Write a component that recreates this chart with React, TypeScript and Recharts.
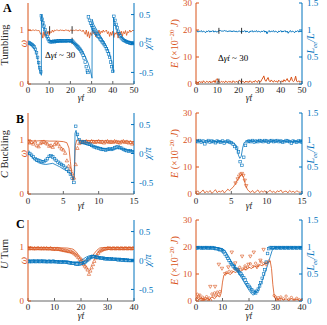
import React from 'react';
import { ComposedChart, Line, XAxis, YAxis, ReferenceLine } from 'recharts';

const ORANGE = '#D95319';
const BLUE = '#0072BD';
const FONT = '"Liberation Serif", "DejaVu Serif", serif';

// ---------------- Row A : Tumbling (t 0..50) ----------------
const aStrainStep = 0.5;
const aStrain = [
  1, 0.99, 1, 0.98, 1, 1, 0.99, 1, 1, 0.98, 1,
  0.97, 0.92, 0.95, 0.85, 0.97, 0.88, 0.96, 0.93, 0.98, 0.9, 0.97, 0.95, 1, 0.96,
  1, 0.99, 1, 1, 0.98, 1, 1, 0.99, 1, 0.98, 1, 1, 0.99, 1, 0.97, 1, 1, 0.98, 1, 0.99, 1, 1, 0.98, 1, 1, 0.99, 0.97, 1,
  0.96, 0.92, 1, 0.88, 0.97, 0.85, 0.95, 0.9, 1, 0.93, 0.97, 0.87, 0.96, 0.94, 1, 0.92, 0.98, 0.95, 1, 0.96,
  0.98, 1, 0.93, 0.97, 0.88, 0.96, 0.9, 0.98, 0.86, 0.95, 0.92, 0.97, 0.85, 0.96, 0.91, 0.98, 0.88, 0.97, 0.93, 0.99, 0.9, 0.97, 0.95, 1, 0.96, 0.98, 1, 0.98,
];
const aChiExp: number[][] = [
  [0, 0.02], [0.5, 0.01], [1, 0], [1.5, -0.01], [2, -0.02], [2.5, -0.04], [3, -0.06], [3.5, -0.1], [4, -0.16], [4.5, -0.24], [5, -0.33], [5.5, -0.42], [6, -0.49],
  [6.3, 0.48], [6.6, 0.42], [7, 0.36], [7.5, 0.3], [8, 0.24], [8.5, 0.18], [9, 0.12], [9.5, 0.08], [10, 0.04], [10.5, 0.03], [11, 0.03], [11.5, 0.03], [12, 0.04],
  [12.5, 0.03], [13, 0.04], [13.5, 0.04], [14, 0.04], [14.5, 0.05], [15, 0.04], [15.5, 0.05], [16, 0.05], [16.5, 0.04], [17, 0.05], [17.5, 0.05], [18, 0.04],
  [18.5, 0.05], [19, 0.05], [19.5, 0.05], [20, 0.04], [20.5, 0.05], [21, 0.04], [21.5, 0.02], [22, 0], [22.5, -0.02], [23, -0.04], [23.5, -0.06], [24, -0.08],
  [24.5, -0.1], [25, -0.13], [25.5, -0.16], [26, -0.2], [26.5, -0.25], [27, -0.32], [27.5, -0.4], [28, -0.47], [28.3, -0.5],
  [28.5, 0.46], [29, 0.4], [29.5, 0.35], [30, 0.31], [30.5, 0.27], [31, 0.24], [31.5, 0.21], [32, 0.18], [32.5, 0.16], [33, 0.13], [33.5, 0.11], [34, 0.08],
  [34.5, 0.06], [35, 0.03], [35.5, 0.01], [36, -0.02], [36.5, -0.05], [37, -0.09], [37.5, -0.13], [38, -0.18], [38.5, -0.24], [39, -0.32], [39.5, -0.4], [40, -0.48],
  [40.5, 0.47], [41, 0.4], [41.5, 0.33], [42, 0.27], [42.5, 0.21], [43, 0.17], [43.5, 0.13], [44, 0.1], [44.5, 0.08], [45, 0.06], [45.5, 0.05], [46, 0.04],
  [46.5, 0.03], [47, 0.02], [47.5, 0.02], [48, 0.01], [48.5, 0.01], [49, 0], [49.5, 0], [50, 0.01],
];
const aChiSim: number[][] = [
  [0, 0.02], [2, -0.05], [3.5, -0.12], [4.5, -0.25], [5.5, -0.45], [6.3, -0.55], [6.35, 0.5], [7, 0.38], [8, 0.22], [9, 0.1], [10, 0.04], [12, 0.03],
  [15, 0.04], [18, 0.04], [21, 0.03], [23, -0.03], [25, -0.1], [27, -0.22], [28.5, -0.35], [29.5, -0.48], [30.2, -0.6], [30.25, 0.42], [31, 0.33],
  [33, 0.2], [35, 0.08], [37, -0.05], [38.5, -0.18], [39.5, -0.32], [40.3, -0.5], [40.35, 0.45], [41, 0.36], [42, 0.24], [43, 0.15], [45, 0.07],
  [47, 0.03], [50, 0.01],
];
const aLeeStep = 0.5;
const aLee = [
  0.97, 0.99, 0.96, 0.98, 0.97, 0.99, 0.96, 0.98, 0.97, 0.95, 0.98, 0.97, 0.99, 0.96, 0.98, 0.97, 0.99, 0.96, 0.98, 0.97, 0.96, 0.98,
  0.99, 0.99, 0.98, 0.98, 0.98, 0.99, 0.98, 0.98, 0.97, 0.98, 0.98, 0.98, 0.97, 0.98, 0.98, 0.97, 0.98, 0.96, 0.98, 0.98, 0.97,
  0.96, 0.98, 0.97, 0.99, 0.96, 0.98, 0.97, 0.95, 0.98, 0.97,
  0.99, 0.96, 0.98, 0.97, 0.99, 0.96, 0.98, 0.97, 0.96, 0.98,
  0.97, 0.99, 0.96, 0.98, 0.93, 0.97, 0.99, 0.96, 0.98, 0.97,
  0.99, 0.96, 0.98, 0.97, 0.95, 0.98, 0.97, 0.99, 0.96, 0.98,
  0.97, 0.99, 0.96, 0.98, 0.94, 0.97, 0.99, 0.96, 0.98, 0.97,
  0.95, 0.98, 0.97, 0.99, 0.96, 0.98, 0.97, 0.98,
];
const aEnergy = [
  0.5, 0.8, 0.3, 1.0, 0.6, 0.9, 0.4, 1.2, 0.7, 0.5, 1.0, 0.8, 0.6, 1.1, 0.4, 0.9, 0.7, 1.3, 0.5, 1.6, 2.0, 1.0,
  0.8, 0.6, 1.0, 0.7, 0.9, 0.5, 1.1, 0.8, 0.6, 1.0, 0.7, 0.9, 0.5, 1.2, 0.8, 0.6, 1.0, 0.7, 0.9, 1.5, 0.8,
  0.6, 1.0, 0.8, 0.5, 1.1, 0.7, 0.9, 0.6, 1.2, 0.8,
  0.5, 1.0, 0.7, 1.3, 0.9, 0.6, 1.4, 1.0, 0.8, 1.6,
  2.2, 3.0, 1.5, 1.0, 1.8, 2.4, 1.2, 0.8, 1.5, 1.0,
  0.7, 1.3, 0.9, 1.1, 0.6, 1.4, 1.0, 0.8, 1.2, 0.7,
  1.6, 1.0, 1.3, 2.0, 1.1, 0.8, 1.5, 2.6, 1.2, 0.9,
  1.4, 2.9, 1.0, 0.8, 1.2, 0.6, 1.0, 0.7,
];

// ---------------- Row B : C buckling (t 0..15) ----------------
const bStep = 0.25;
const bStrainExp = [
  0.97, 0.95, 0.96, 0.93, 0.97, 0.9, 0.88, 0.94, 0.96, 0.97, 0.95, 0.93, 0.89, 0.9, 0.87, 0.92, 0.95,
  0.93, 0.88, 0.84, 0.82, 0.76, 0.62, 0.52, 0.46, 0.38, 0.3, 0.55, 0.85,
  0.94, 0.96, 0.97, 0.96, 0.98, 0.97, 0.96, 0.98, 0.97, 0.96, 0.97, 0.98, 0.96, 0.97, 0.95, 0.97,
  0.98, 0.96, 0.97, 0.96, 0.98, 0.97, 0.96, 0.95, 0.97, 0.98, 0.96, 0.97, 0.95, 0.96, 0.93, 0.95,
];
const bStrainSim: number[][] = [
  [0, 0.99], [1, 0.98], [2, 0.99], [3, 0.98], [4, 0.98], [5, 0.97], [5.5, 0.95], [5.8, 0.85], [6.0, 0.6], [6.2, 0.35], [6.35, 0.25],
  [6.5, 0.3], [6.6, 0.6], [6.7, 0.9], [6.9, 1.0], [8, 0.99], [10, 0.99], [12, 0.98], [14, 0.98], [15, 0.97],
];
const bChiExp = [
  0.02, 0, -0.03, -0.06, -0.09, -0.11, -0.12, -0.13, -0.14, -0.14, -0.12, -0.09, -0.05,
  -0.04, -0.06, -0.09, -0.12, -0.15, -0.17, -0.19, -0.21, -0.24, -0.27, -0.31, -0.36, -0.43, -0.5,
  0.47, 0.33, 0.24, 0.2, 0.19, 0.2, 0.18, 0.17, 0.16, 0.14, 0.12, 0.11, 0.1, 0.09, 0.08, 0.07, 0.07,
  0.06, 0.07, 0.08, 0.07, 0.08, 0.1, 0.11, 0.12, 0.1, 0.09, 0.07, 0.06, 0.05, 0.04, 0.05, 0.03, 0.02,
];
const bChiSim: number[][] = [
  [0, 0], [0.5, -0.05], [1, -0.12], [1.5, -0.16], [2, -0.18], [2.5, -0.19], [3, -0.18], [3.5, -0.17], [4, -0.2], [4.5, -0.23], [5, -0.27],
  [5.5, -0.3], [6, -0.34], [6.3, -0.4], [6.5, -0.46], [6.6, -0.3], [6.65, 0.35], [6.8, 0.4], [7, 0.28], [7.5, 0.18], [8, 0.16], [9, 0.13],
  [10, 0.1], [11, 0.08], [12, 0.07], [13, 0.09], [14, 0.06], [15, 0.04],
];
const bLeeExp = [
  0.98, 0.97, 0.99, 0.96, 0.98, 0.93, 0.97, 0.99, 0.96, 0.98, 0.97, 0.95, 0.98, 0.97, 0.96, 0.98, 0.94, 0.97, 0.98, 0.96, 0.95,
  0.92, 0.88, 0.85, 0.78, 0.6, 0.53, 0.68, 0.9, 0.97,
  0.98, 0.97, 0.99, 0.96, 0.98, 0.97, 0.99, 0.98, 0.97, 0.99, 0.98, 0.96, 0.98, 0.99, 0.97, 0.98,
  0.99, 0.97, 0.98, 0.96, 0.97, 0.99, 0.98, 0.97, 0.94, 0.98, 0.97, 0.96, 0.98, 0.97, 0.96,
];
const bLeeSim: number[][] = [
  [0, 0.98], [2, 0.98], [4, 0.97], [5, 0.96], [5.5, 0.93], [5.8, 0.85], [6.0, 0.72], [6.2, 0.66], [6.4, 0.7], [6.6, 0.85], [6.8, 0.95],
  [7.2, 0.98], [10, 0.98], [12, 0.98], [15, 0.97],
];
const bEnergy = [
  0.5, 1.2, 0.3, 0.8, 1.5, 0.4, 1.0, 0.6, 1.3, 0.2, 0.9, 1.6, 0.5, 1.1, 0.7, 1.4, 0.4, 1.0, 1.8, 1.2, 2.0,
  2.5, 3.5, 4.8, 5.8, 6.8, 7.3, 6.0, 3.5, 1.8,
  1.0, 0.6, 1.3, 0.4, 0.9, 1.5, 0.5, 1.1, 0.7, 1.2, 0.3, 0.9, 1.4, 0.6, 1.0, 0.4,
  1.2, 0.8, 1.5, 0.5, 0.9, 1.1, 0.4, 1.3, 0.7, 1.0, 0.5, 1.2, 0.8, 0.6, 1.0,
];
const bEnergyPeak: number[][] = [
  [5.6, 4], [5.9, 5.5], [6.1, 6.5], [6.3, 7.2], [6.5, 7.5], [6.7, 6.8], [6.9, 5], [7.1, 3],
];

// ---------------- Row C : U turn (t 0..40) ----------------
const cStep = 0.5;
const cStrainExp = [
  0.98, 0.97, 0.98, 0.98, 0.97, 0.98, 0.97, 0.98, 0.98, 0.97, 0.98, 0.97, 0.98, 0.97, 0.98, 0.97, 0.97, 0.98, 0.97, 0.96, 0.97, 0.96, 0.97, 0.96, 0.96,
  0.95, 0.95, 0.94, 0.94, 0.93, 0.93, 0.92, 0.92, 0.91, 0.9, 0.88, 0.86, 0.84, 0.81, 0.78, 0.75, 0.72, 0.68, 0.65, 0.62, 0.58, 0.5,
  0.56, 0.62, 0.68, 0.74, 0.8, 0.85, 0.89, 0.92, 0.94, 0.95, 0.96, 0.97, 0.97, 0.98,
  0.98, 0.98, 0.97, 0.98, 0.98, 0.97, 0.98, 0.98, 0.97, 0.98, 0.98, 0.97, 0.98, 0.98, 0.97, 0.98, 0.98, 0.97, 0.98, 0.98,
];
const cStrainSim: number[][] = [
  [0, 0.99], [5, 0.99], [10, 0.99], [15, 0.98], [17, 0.96], [18, 0.92], [19, 0.86], [20, 0.8], [21, 0.76], [22, 0.74], [23, 0.76],
  [24, 0.82], [25, 0.88], [26, 0.94], [27, 0.98], [28, 0.99], [35, 0.99], [40, 0.99],
];
const cChiExp = [
  -0.01, -0.02, -0.01, -0.02, -0.01, -0.01, -0.02, -0.01, -0.01, -0.02, -0.01, -0.01, -0.02, -0.01, -0.02, -0.02,
  -0.01, -0.02, -0.02, -0.01, -0.02, -0.02, -0.02, -0.03, -0.02, -0.03, -0.03, -0.02, -0.03, -0.03, -0.03,
  -0.04, -0.04, -0.05, -0.05, -0.05, -0.06, -0.06, -0.06, -0.06, -0.05, -0.05, -0.04, -0.03, -0.01, 0.01, 0.03,
  0.05, 0.06, 0.07, 0.07, 0.06, 0.06, 0.05, 0.05, 0.04, 0.04,
  0.04, 0.03, 0.03, 0.03, 0.03, 0.02, 0.03, 0.02, 0.02, 0.02, 0.02, 0.01, 0.02, 0.01, 0.01, 0.01, 0.01, 0, 0.01, 0, 0, 0, 0, 0,
];
const cChiSim: number[][] = [
  [0, -0.01], [10, -0.01], [15, -0.02], [17, -0.03], [19, -0.02], [20, 0], [21, 0.03], [22, 0.06], [23, 0.08], [24, 0.09], [25, 0.08],
  [26, 0.06], [28, 0.04], [30, 0.03], [35, 0.02], [40, 0.01],
];
const cLeeExp = [
  0.99, 0.98, 0.99, 0.99, 0.98, 0.99, 0.98, 0.99, 0.99, 0.98, 0.99, 0.98, 0.99, 0.98, 0.98, 0.97, 0.97,
  0.96, 0.95, 0.95, 0.93, 0.91, 0.87, 0.83, 0.79, 0.75, 0.71, 0.68, 0.65, 0.63, 0.6, 0.58, 0.55, 0.52, 0.5, 0.47, 0.43,
  0.39, 0.34, 0.3, 0.27, 0.24, 0.21, 0.18, 0.16, 0.15, 0.18, 0.22, 0.28, 0.34, 0.42, 0.5, 0.58, 0.72, 0.88, 0.97, 0.99,
  0.99, 0.98, 0.99, 0.99, 0.98, 0.99, 0.99, 0.98, 0.99, 0.99, 0.98, 0.99, 0.99, 0.98, 0.99, 0.99, 0.98, 0.99, 0.99, 0.98, 0.99, 0.99, 0.98, 0.99,
];
const cLeeSim: number[][] = [
  [0, 0.99], [8, 0.99], [10, 0.97], [11, 0.93], [12, 0.85], [13, 0.76], [14, 0.68], [15, 0.6], [16, 0.52], [17, 0.44], [18, 0.36],
  [19, 0.28], [20, 0.2], [21, 0.13], [21.5, 0.11], [22, 0.12], [23, 0.18], [24, 0.27], [25, 0.38], [26, 0.52], [27, 0.66], [28, 0.82],
  [28.7, 0.93], [29.5, 0.99], [32, 0.99], [40, 0.99],
];
const cEnergyExp: number[][] = [
  [1, 1], [2.5, 0.5], [5.4, 5.3], [7.2, 5.3], [8.6, 13.5], [9.8, 12], [11, 10], [12.2, 12.5], [13.5, 18], [14.8, 14], [16, 11.5],
  [17.4, 16.5], [18.6, 12], [19.8, 13.5], [20.5, 16.5], [21.8, 18], [23, 12.5], [24.3, 15], [25.5, 19], [26.5, 13.5],
];
const cEnergySim: number[][] = [
  [0, 1.5], [1, 0.5], [2, 1.2], [3, 0.3], [4, 1.0], [5, 0.4], [6, 1.5], [7, 0.8], [8, 2.0], [9, 1.5], [9.5, 3], [10, 7], [10.5, 9.5],
  [11, 10], [12, 10.3], [13, 9.8], [14, 11], [15, 10.5], [16, 11.5], [17, 11], [18, 12], [19, 11.5], [20, 12.5], [21, 12], [22, 13],
  [23, 12.5], [24, 13.5], [25, 13], [26, 14], [27, 14.2], [28, 14.8], [28.5, 12], [29, 6], [29.5, 2], [30, 0.8], [31, 0.5], [32, 1.0],
  [33, 0.4], [34, 0.8], [35, 0.3], [36, 0.9], [37, 0.5], [38, 0.7], [39, 0.3], [40, 0.6],
];
const cEnergyDots: number[][] = [
  [0.5, 2.5], [1, 1.8], [1.5, 2.2], [2, 0.6], [2.5, 1.4], [3, 0.4], [3.5, 0.9], [4, 1.6], [4.5, 0.5], [5, 1.1], [5.5, 0.3], [6, 2.6],
  [6.5, 1.8], [7, 3.0], [7.5, 2.2], [8, 3.3], [8.5, 2.5], [9, 3.5], [11.5, 10.5], [12.5, 11], [13.5, 10.8], [14.5, 12], [15.5, 11.5],
  [16.5, 12.5], [17.5, 11.8], [18.5, 13], [19.5, 12.5], [20.5, 13.8], [21.5, 12.8], [22.5, 14], [23.5, 13.2], [24.5, 14.5],
  [25.5, 13.8], [26.5, 14.2], [27.5, 14.8], [29.5, 2.0], [30, 1.5], [30.5, 0.6], [31, 1.2], [31.5, 0.5], [32, 1.5], [33, 0.8],
  [34, 1.8], [35, 0.6], [36, 1.3], [37, 0.4], [38, 1.0], [39, 0.5], [40, 0.3],
];

// ---------------- axes ----------------
const xTicksA = [0, 10, 20, 30, 40, 50];
const xTicksB = [0, 5, 10, 15];
const xTicksC = [0, 10, 20, 30, 40];
const strainTicks = [0, 1];
const chiTicks = [-0.5, 0, 0.5];
const energyTicks = [0, 10, 20, 30];
const leeTicks = [0, 0.5, 1, 1.5];

const grid = (step: number, vals: number[]) => vals.map((v, i) => ({ t: Math.round(i * step * 1000) / 1000, v }));
const pairs = (p: number[][]) => p.map(([t, v]) => ({ t, v }));

const square = (color: string) => (p: any) => {
  const { cx, cy, index } = p;
  if (cx == null || cy == null || isNaN(cy)) return <g key={index} />;
  return <rect key={index} x={cx - 1.3} y={cy - 1.3} width={2.6} height={2.6} fill="none" stroke={color} strokeWidth={0.6} />;
};
const triangle = (color: string, down: boolean) => (p: any) => {
  const { cx, cy, index } = p;
  if (cx == null || cy == null || isNaN(cy)) return <g key={index} />;
  const s = 1.7;
  const pts = down
    ? `${cx - s},${cy - s * 0.8} ${cx + s},${cy - s * 0.8} ${cx},${cy + s}`
    : `${cx - s},${cy + s * 0.8} ${cx + s},${cy + s * 0.8} ${cx},${cy - s}`;
  return <polygon key={index} points={pts} fill="none" stroke={color} strokeWidth={0.6} />;
};
const circle = (color: string) => (p: any) => {
  const { cx, cy, index } = p;
  if (cx == null || cy == null || isNaN(cy)) return <g key={index} />;
  return <circle key={index} cx={cx} cy={cy} r={1.2} fill="none" stroke={color} strokeWidth={0.6} />;
};

const tickStyle = (fill: string) => ({ fontSize: 9, fill, fontFamily: FONT });

type PanelProps = {
  x: number; y: number; side: 'left' | 'right'; tm: number;
  xDomain: number[]; xTicks: number[];
  lDomain: number[]; lTicks: number[]; rDomain: number[]; rTicks: number[];
  children: React.ReactNode;
};

function Panel({ x, y, side, tm, xDomain, xTicks, lDomain, lTicks, rDomain, rTicks, children }: PanelProps) {
  const isLeft = side === 'left';
  const w = isLeft ? 165 : 162;
  const margin = isLeft ? { top: 6, right: 5, left: 8, bottom: 0 } : { top: 6, right: 3, left: 3, bottom: 0 };
  return (
    <div style={{ position: 'absolute', left: x, top: y - 3 }}>
      <ComposedChart width={w} height={111} margin={margin}>
        <XAxis xAxisId="b" dataKey="t" type="number" domain={xDomain} ticks={xTicks} interval={0} allowDataOverflow
          stroke="#666" tickSize={-3} tickMargin={tm} height={24} tick={tickStyle('#262626')} />
        <XAxis xAxisId="top" orientation="top" dataKey="t" type="number" domain={xDomain} ticks={xTicks} interval={0} allowDataOverflow
          stroke="#888" tickSize={-3} height={0} tickFormatter={() => ''} />
        <YAxis yAxisId="L" orientation="left" type="number" domain={lDomain} ticks={lTicks} interval={0} allowDataOverflow
          width={isLeft ? 20 : 28} stroke={ORANGE} tickSize={-3} tickMargin={7} tick={tickStyle(ORANGE)} />
        <YAxis yAxisId="R" orientation="right" type="number" domain={rDomain} ticks={rTicks} interval={0} allowDataOverflow
          width={isLeft ? 26 : 22} stroke={BLUE} tickSize={-3} tickMargin={8} tick={tickStyle(BLUE)} />
        {children}
      </ComposedChart>
    </div>
  );
}

const common = { xAxisId: 'b', dataKey: 'v', isAnimationActive: false, activeDot: false } as any;

function Labels() {
  const t = { fontFamily: FONT };
  const rot = (x: number, y: number) => `translate(${x},${y}) rotate(-90)`;
  return (
    <svg width={327} height={325} style={{ position: 'absolute', left: 0, top: 0, pointerEvents: 'none' }}>
      <g style={t}>
        <text x={3} y={12} fontSize={12} fontWeight="bold" fill="#000">A</text>
        <text x={16} y={123} fontSize={12} fontWeight="bold" fill="#000">B</text>
        <text x={16} y={228} fontSize={12} fontWeight="bold" fill="#000">C</text>

        <text transform={rot(8, 45)} textAnchor="middle" fontSize={10.5} fill="#262626">Tumbling</text>
        <text transform={rot(8, 154)} textAnchor="middle" fontSize={10.5} fill="#262626"><tspan fontStyle="italic">C</tspan> Buckling</text>
        <text transform={rot(8, 254)} textAnchor="middle" fontSize={10.5} fill="#262626"><tspan fontStyle="italic">U</tspan> Turn</text>

        {[43.5, 153.5, 260.5].map((cy, i) => (
          <text key={'w' + i} transform={rot(27, cy)} textAnchor="middle" fontSize={10.5} fontStyle="italic" fill={ORANGE}>ω</text>
        ))}
        {[43.5, 153.5, 260.5].map((cy, i) => (
          <text key={'c' + i} transform={rot(151, cy)} textAnchor="middle" fontSize={10} fontStyle="italic" fill={BLUE}>χ/π</text>
        ))}
        {[43.5, 153.5, 260.5].map((cy, i) => (
          <text key={'e' + i} transform={rot(178, cy)} textAnchor="middle" fontSize={10} fill={ORANGE}>
            <tspan fontStyle="italic">E</tspan> (×10<tspan dy={-4} fontSize={7}>−20</tspan><tspan dy={4}> </tspan><tspan fontStyle="italic">J</tspan>)
          </text>
        ))}
        {[43.5, 153.5, 260.5].map((cy, i) => (
          <text key={'l' + i} transform={rot(314, cy)} textAnchor="middle" fontSize={10} fontStyle="italic" fill={BLUE}>
            L<tspan dy={2.5} fontSize={7}>ee</tspan><tspan dy={-2.5}>/L</tspan>
          </text>
        ))}
        {[[81, 101], [249, 101], [81, 209], [249, 209], [81, 319], [249, 319]].map(([x, y], i) => (
          <text key={'x' + i} x={x} y={y} textAnchor="middle" fontSize={9.5} fontStyle="italic" fill="#262626">γ̇t</text>
        ))}
        <text x={45} y={58} fontSize={9} fill="#000">Δ<tspan fontStyle="italic">γ̇t</tspan> ~ 30</text>
        <text x={218} y={61} fontSize={9} fill="#000">Δ<tspan fontStyle="italic">γ̇t</tspan> ~ 30</text>
      </g>
    </svg>
  );
}

export default function App() {
  return (
    <div style={{ position: 'fixed', left: 0, top: 0, width: 327, height: 325, background: '#fff', overflow: 'hidden' }}>
      {/* Row A left */}
      <Panel x={0} y={0} side="left" tm={6} xDomain={[0, 50]} xTicks={xTicksA} lDomain={[0, 1.5]} lTicks={strainTicks} rDomain={[-0.7, 0.7]} rTicks={chiTicks}>
        <Line {...common} yAxisId="L" data={grid(aStrainStep, aStrain)} stroke={ORANGE} strokeWidth={0.8} dot={false} />
        <Line {...common} yAxisId="R" data={pairs(aChiSim)} stroke={BLUE} strokeWidth={0.8} dot={false} />
        <Line {...common} yAxisId="R" data={pairs(aChiExp)} stroke="none" dot={square(BLUE)} />
        <ReferenceLine xAxisId="b" yAxisId="L" segment={[{ x: 10.2, y: 0.93 }, { x: 10.2, y: 1.07 }]} stroke="#000" strokeWidth={0.8} />
        <ReferenceLine xAxisId="b" yAxisId="L" segment={[{ x: 20.8, y: 0.93 }, { x: 20.8, y: 1.07 }]} stroke="#000" strokeWidth={0.8} />
        <ReferenceLine xAxisId="b" yAxisId="R" segment={[{ x: 20.8, y: -0.01 }, { x: 20.8, y: 0.1 }]} stroke="#000" strokeWidth={0.8} />
      </Panel>
      {/* Row A right */}
      <Panel x={165} y={0} side="right" tm={6} xDomain={[0, 50]} xTicks={xTicksA} lDomain={[0, 30]} lTicks={energyTicks} rDomain={[0, 1.5]} rTicks={leeTicks}>
        <Line {...common} yAxisId="L" data={grid(aLeeStep, aEnergy)} stroke={ORANGE} strokeWidth={1} dot={false} />
        <Line {...common} yAxisId="R" data={grid(aLeeStep, aLee)} stroke={BLUE} strokeWidth={1} dot={false} />
        <ReferenceLine xAxisId="b" yAxisId="R" segment={[{ x: 10.8, y: 0.93 }, { x: 10.8, y: 1.04 }]} stroke="#000" strokeWidth={0.8} />
        <ReferenceLine xAxisId="b" yAxisId="R" segment={[{ x: 21.5, y: 0.93 }, { x: 21.5, y: 1.04 }]} stroke="#000" strokeWidth={0.8} />
        <ReferenceLine xAxisId="b" yAxisId="L" segment={[{ x: 10.8, y: 0 }, { x: 10.8, y: 2 }]} stroke="#000" strokeWidth={0.8} />
        <ReferenceLine xAxisId="b" yAxisId="L" segment={[{ x: 21.5, y: 0 }, { x: 21.5, y: 2 }]} stroke="#000" strokeWidth={0.8} />
      </Panel>
      {/* Row B left */}
      <Panel x={0} y={110} side="left" tm={7} xDomain={[0, 15]} xTicks={xTicksB} lDomain={[0, 1.5]} lTicks={strainTicks} rDomain={[-0.7, 0.7]} rTicks={chiTicks}>
        <Line {...common} yAxisId="L" data={pairs(bStrainSim)} stroke={ORANGE} strokeWidth={0.8} dot={false} />
        <Line {...common} yAxisId="L" data={grid(bStep, bStrainExp)} stroke="none" dot={triangle(ORANGE, false)} />
        <Line {...common} yAxisId="R" data={pairs(bChiSim)} stroke={BLUE} strokeWidth={0.8} dot={false} />
        <Line {...common} yAxisId="R" data={grid(bStep, bChiExp)} stroke="none" dot={square(BLUE)} />
      </Panel>
      {/* Row B right */}
      <Panel x={165} y={110} side="right" tm={7} xDomain={[0, 15]} xTicks={xTicksB} lDomain={[0, 30]} lTicks={energyTicks} rDomain={[0, 1.5]} rTicks={leeTicks}>
        <Line {...common} yAxisId="L" data={grid(bStep, bEnergy)} stroke={ORANGE} strokeWidth={0.8} dot={false} />
        <Line {...common} yAxisId="L" data={pairs(bEnergyPeak)} stroke="none" dot={triangle(ORANGE, true)} />
        <Line {...common} yAxisId="R" data={pairs(bLeeSim)} stroke={BLUE} strokeWidth={0.8} dot={false} />
        <Line {...common} yAxisId="R" data={grid(bStep, bLeeExp)} stroke="none" dot={square(BLUE)} />
      </Panel>
      {/* Row C left */}
      <Panel x={0} y={217} side="left" tm={6} xDomain={[0, 40]} xTicks={xTicksC} lDomain={[0, 1.5]} lTicks={strainTicks} rDomain={[-0.7, 0.7]} rTicks={chiTicks}>
        <Line {...common} yAxisId="L" data={pairs(cStrainSim)} stroke={ORANGE} strokeWidth={0.8} dot={false} />
        <Line {...common} yAxisId="L" data={grid(cStep, cStrainExp)} stroke="none" dot={triangle(ORANGE, false)} />
        <Line {...common} yAxisId="R" data={pairs(cChiSim)} stroke={BLUE} strokeWidth={0.8} dot={false} />
        <Line {...common} yAxisId="R" data={grid(cStep, cChiExp)} stroke="none" dot={square(BLUE)} />
      </Panel>
      {/* Row C right */}
      <Panel x={165} y={217} side="right" tm={6} xDomain={[0, 40]} xTicks={xTicksC} lDomain={[0, 30]} lTicks={energyTicks} rDomain={[0, 1.5]} rTicks={leeTicks}>
        <Line {...common} yAxisId="L" data={pairs(cEnergySim)} stroke={ORANGE} strokeWidth={0.8} dot={false} />
        <Line {...common} yAxisId="L" data={pairs(cEnergyDots)} stroke="none" dot={circle(ORANGE)} />
        <Line {...common} yAxisId="L" data={pairs(cEnergyExp)} stroke="none" dot={triangle(ORANGE, true)} />
        <Line {...common} yAxisId="R" data={pairs(cLeeSim)} stroke={BLUE} strokeWidth={0.8} dot={false} />
        <Line {...common} yAxisId="R" data={grid(cStep, cLeeExp)} stroke="none" dot={square(BLUE)} />
      </Panel>
      <Labels />
    </div>
  );
}
